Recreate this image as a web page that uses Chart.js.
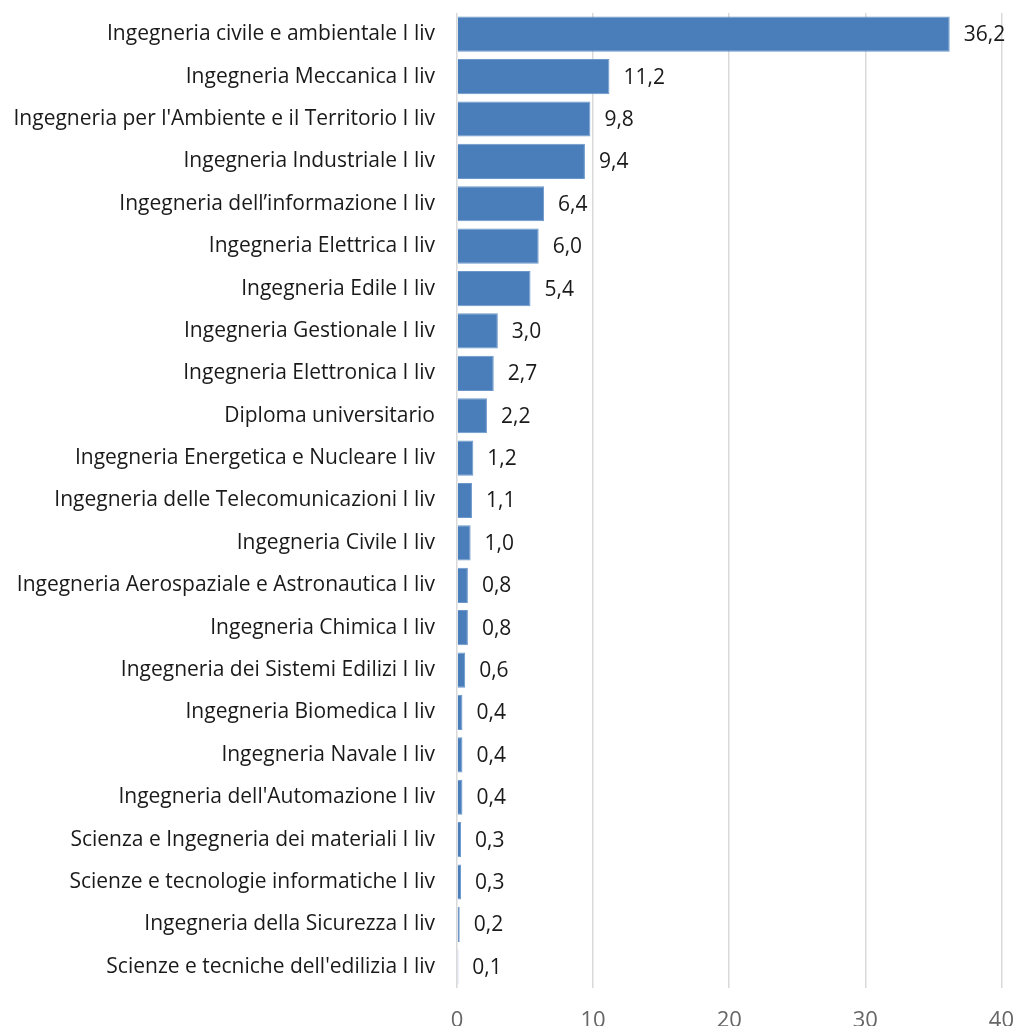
<!DOCTYPE html>
<html><head><meta charset="utf-8">
<script src="https://cdn.jsdelivr.net/npm/chart.js@4/dist/chart.umd.min.js"></script>
<style>html,body{margin:0;padding:0;background:#fff;overflow:hidden}#wrap{width:1014px;height:1050px}</style>
</head><body><div id="wrap"><canvas id="c" width="1014" height="1050"></canvas></div>
<script>
const categories = [
 "Ingegneria civile e ambientale I liv",
 "Ingegneria Meccanica I liv",
 "Ingegneria per l'Ambiente e il Territorio I liv",
 "Ingegneria Industriale I liv",
 "Ingegneria dell\u2019informazione I liv",
 "Ingegneria Elettrica I liv",
 "Ingegneria Edile I liv",
 "Ingegneria Gestionale I liv",
 "Ingegneria Elettronica I liv",
 "Diploma universitario",
 "Ingegneria Energetica e Nucleare I liv",
 "Ingegneria delle Telecomunicazioni I liv",
 "Ingegneria Civile I liv",
 "Ingegneria Aerospaziale e Astronautica I liv",
 "Ingegneria Chimica I liv",
 "Ingegneria dei Sistemi Edilizi I liv",
 "Ingegneria Biomedica I liv",
 "Ingegneria Navale I liv",
 "Ingegneria dell'Automazione I liv",
 "Scienza e Ingegneria dei materiali I liv",
 "Scienze e tecnologie informatiche I liv",
 "Ingegneria della Sicurezza I liv",
 "Scienze e tecniche dell'edilizia I liv"
];
const values = [36.2, 11.2, 9.8, 9.4, 6.4, 6.0, 5.4, 3.0, 2.7, 2.2, 1.2, 1.1, 1.0, 0.8, 0.8, 0.6, 0.4, 0.4, 0.4, 0.3, 0.3, 0.2, 0.1];
const xTicks = [0, 10, 20, 30, 40];

const FONT = "'Open Sans', sans-serif";

const valueLabels = {
  id: 'valueLabels',
  afterDatasetsDraw(chart) {
    const ctx = chart.ctx;
    const meta = chart.getDatasetMeta(0);
    ctx.save();
    ctx.font = "21px " + FONT;
    ctx.fillStyle = "#1a1a1a";
    ctx.textAlign = "left";
    ctx.textBaseline = "middle";
    meta.data.forEach((bar, i) => {
      const txt = values[i].toFixed(1).replace('.', ',');
      ctx.fillText(txt, bar.x + 14, bar.y + 1);
    });
    ctx.restore();
  }
};

new Chart(document.getElementById('c'), {
  type: 'bar',
  data: {
    labels: categories,
    datasets: [{
      data: values,
      backgroundColor: '#4a7ebb',
      borderColor: '#6b97cb',
      borderWidth: 1,
      categoryPercentage: 0.83,
      barPercentage: 1.0
    }]
  },
  options: {
    indexAxis: 'y',
    responsive: false,
    animation: false,
    layout: { padding: { top: 13, right: 0, left: 0, bottom: 0 } },
    plugins: { legend: { display: false }, tooltip: { enabled: false } },
    scales: {
      x: {
        min: 0, max: 40,
        afterBuildTicks(scale) { scale.ticks = xTicks.map(v => ({ value: v })); },
        afterFit(scale) { scale.height = 62; },
        grid: { color: '#d9d9d9', lineWidth: 1.5, drawTicks: true, tickLength: 20, tickColor: 'rgba(0,0,0,0)' },
        border: { display: false },
        ticks: { color: '#666666', font: { size: 22, family: FONT }, padding: 0 }
      },
      y: {
        afterFit(scale) { scale.width = 457; },
        grid: { display: true, drawOnChartArea: false, drawTicks: true, tickLength: 22, tickColor: 'rgba(0,0,0,0)' },
        border: { display: false },
        ticks: { color: '#1a1a1a', font: { size: 21, family: FONT }, padding: 0, autoSkip: false }
      }
    }
  },
  plugins: [valueLabels]
});
</script>
</body></html>
